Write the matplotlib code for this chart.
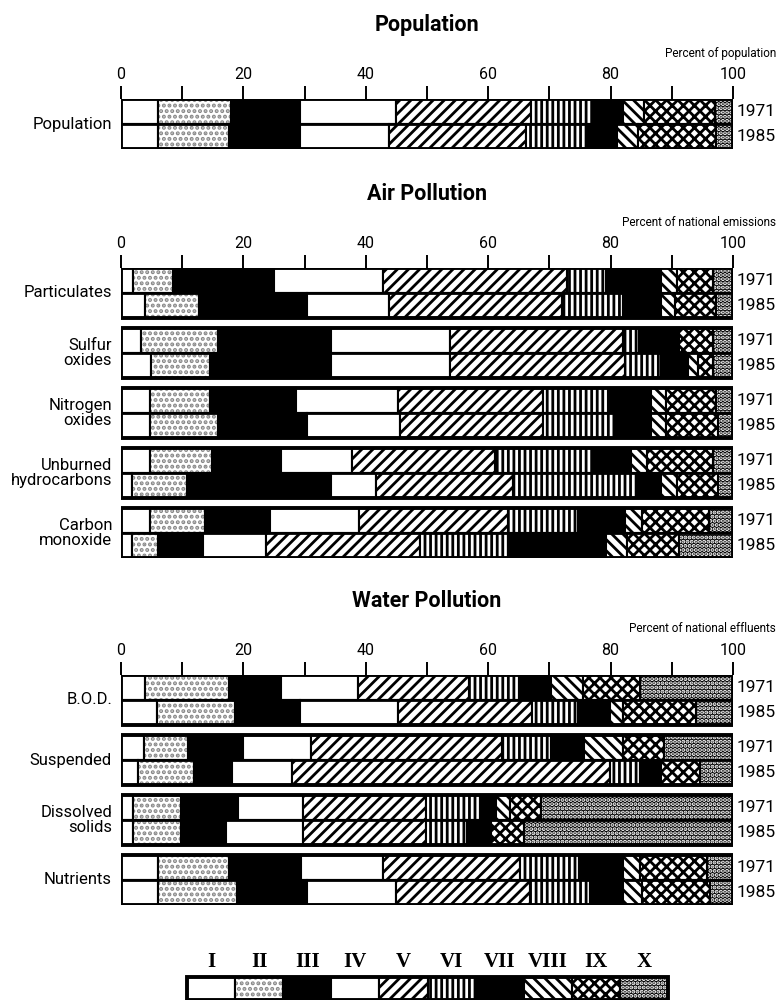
import matplotlib
matplotlib.use("Agg")
import matplotlib.pyplot as plt
from matplotlib.patches import Rectangle
import numpy as np

plt.rcParams['hatch.linewidth'] = 2.0
NARROW = ['Roboto', 'DejaVu Sans']

# ---- data: percent share of each class I..X ----
classes = ['I', 'II', 'III', 'IV', 'V', 'VI', 'VII', 'VIII', 'IX', 'X']

pop_labels = ['Population']
pop_1971 = [[6.0, 12.0, 11.3, 15.7, 22.0, 10.0, 5.0, 3.5, 11.5, 3.0]]
pop_1985 = [[6.0, 11.7, 11.6, 14.5, 22.3, 9.9, 5.0, 3.5, 12.7, 2.8]]

air_labels = ['Particulates', 'Sulfur\noxides', 'Nitrogen\noxides',
              'Unburned\nhydrocarbons', 'Carbon\nmonoxide']
air_1971 = [
    [2.0, 6.5, 16.5, 17.8, 30.0, 6.4, 9.1, 2.5, 6.0, 3.2],
    [3.2, 12.7, 18.4, 19.4, 28.3, 2.6, 6.2, 0.4, 5.6, 3.2],
    [4.8, 9.7, 14.1, 16.6, 23.7, 11.0, 6.7, 2.4, 8.2, 2.8],
    [4.8, 10.0, 11.3, 11.7, 23.3, 15.9, 6.4, 2.5, 10.9, 3.2],
    [4.8, 9.0, 10.6, 14.5, 24.4, 11.3, 7.7, 2.9, 10.9, 3.9],
]
air_1985 = [
    [3.9, 8.8, 17.7, 13.4, 28.3, 9.9, 6.3, 2.2, 6.7, 2.8],
    [4.9, 9.6, 19.8, 19.4, 28.6, 6.0, 4.3, 1.7, 2.5, 3.2],
    [4.8, 11.1, 14.5, 15.2, 23.3, 12.0, 5.7, 2.4, 8.5, 2.5],
    [1.8, 9.0, 23.5, 7.4, 22.3, 20.5, 3.8, 2.5, 6.7, 2.5],
    [1.8, 4.2, 7.4, 10.3, 25.1, 14.5, 15.9, 3.5, 8.5, 8.8],
]

water_labels = ['B.O.D.', 'Suspended', 'Dissolved\nsolids', 'Nutrients']
water_1971 = [
    [3.9, 13.8, 8.4, 12.6, 18.2, 8.1, 5.3, 5.2, 9.3, 15.2],
    [3.7, 7.3, 9.0, 11.0, 31.2, 8.1, 5.3, 6.4, 6.7, 11.3],
    [2.0, 7.8, 9.3, 10.7, 20.0, 8.9, 2.6, 2.2, 5.1, 31.4],
    [6.0, 11.7, 11.7, 13.4, 22.4, 9.7, 7.1, 2.8, 11.0, 4.2],
]
water_1985 = [
    [5.9, 12.8, 10.6, 15.9, 21.9, 7.5, 5.3, 2.1, 11.9, 6.1],
    [2.8, 9.1, 6.3, 9.7, 52.0, 4.9, 3.4, 0.0, 6.4, 5.4],
    [1.9, 7.9, 7.3, 12.7, 20.0, 6.8, 3.9, 0.0, 5.3, 34.2],
    [6.0, 12.9, 11.5, 14.6, 21.9, 9.8, 5.3, 3.2, 11.0, 3.8],
]

years = ['1971', '1985']

# fill colour, hatch, hatch colour for each class
styles = [
    ('white', '', 'black'),
    ('white', '...', '#888888'),
    ('black', '', 'black'),
    ('white', '', 'black'),
    ('white', '///', 'black'),
    ('white', '|||', 'black'),
    ('black', '', 'black'),
    ('white', '\\\\\\', 'black'),
    ('white', 'xxx', 'black'),
    ('black', '....', 'white'),
]

W, H = 778, 1000
fig = plt.figure(figsize=(W / 100, H / 100), dpi=100)

X0, X1 = 121, 733          # pixel position of 0 and 100
ROW = 25                   # pixel height of one bar
PITCH = 60                 # group spacing


def fx(px):
    return px / W


def fy(py):
    return 1 - py / H


def draw_bars(ax, y, shares, height):
    left = np.concatenate([[0], np.cumsum(shares)[:-1]])
    for k, (face, hatch, hcol) in enumerate(styles):
        ax.barh(y, shares[k], left=left[k], height=height, color=face,
                hatch=hatch, edgecolor=hcol, linewidth=0)
        ax.barh(y, shares[k], left=left[k], height=height, fill=False,
                edgecolor='black', linewidth=1.5)


def panel(top, title, unit, labels, d71, d85):
    n = len(labels)
    bottom = top + (n - 1) * PITCH + 2 * ROW
    ax = fig.add_axes([fx(X0), fy(bottom), fx(X1 - X0), (bottom - top) / H])
    ax.set_xlim(0, 100)
    ax.set_ylim(bottom - top, 0)
    for i in range(n):
        g = i * PITCH
        draw_bars(ax, g + ROW / 2, d71[i], ROW)
        draw_bars(ax, g + 1.5 * ROW, d85[i], ROW)
        ax.add_patch(Rectangle((0, g), 100, 2 * ROW, fill=False,
                               edgecolor='black', linewidth=2.8, zorder=5))
        ax.plot([0, 100], [g + ROW, g + ROW], color='black', lw=2.0, zorder=5)
        fig.text(fx(112), fy(top + g + ROW), labels[i], ha='right',
                 va='center', fontsize=12, family=NARROW, linespacing=1.05)
        for j, yr in enumerate(years):
            fig.text(fx(737), fy(top + g + ROW / 2 + j * ROW), yr,
                     ha='left', va='center', fontsize=12.5, family=NARROW)
    for s in ax.spines.values():
        s.set_visible(False)
    ax.set_yticks([])
    ax.xaxis.tick_top()
    ax.set_xticks(range(0, 101, 20))
    ax.set_xticks(range(10, 100, 20), minor=True)
    ax.tick_params(which='both', top=True, bottom=False, direction='out',
                   length=9.5, width=1.4, pad=3)
    for t in ax.get_xticklabels():
        t.set_family(NARROW)
        t.set_fontsize(11.5)
    fig.text(fx(427), fy(top - 74), title, ha='center', va='center',
             fontsize=15.5, fontweight='bold', family=NARROW)
    fig.text(fx(776), fy(top - 46), unit, ha='right', va='center',
             fontsize=8.5, family=NARROW)
    return ax


panel(99, 'Population', 'Percent of population', pop_labels, pop_1971, pop_1985)
panel(268, 'Air Pollution', 'Percent of national emissions', air_labels,
      air_1971, air_1985)
panel(675, 'Water Pollution', 'Percent of national effluents', water_labels,
      water_1971, water_1985)

# legend strip
lx0, lx1, ly0, ly1 = 187, 668, 977, 1000
lax = fig.add_axes([fx(lx0), fy(ly1), fx(lx1 - lx0), (ly1 - ly0) / H])
lax.set_xlim(0, len(classes))
lax.set_ylim(0, 1)
lax.axis('off')
for k, (face, hatch, hcol) in enumerate(styles):
    lax.bar(k + 0.5, 1, width=1, color=face, hatch=hatch, edgecolor=hcol,
            linewidth=0)
    lax.bar(k + 0.5, 1, width=1, fill=False, edgecolor='black', linewidth=1.5)
    fig.text(fx(lx0 + (k + 0.5) * (lx1 - lx0) / len(classes)), fy(962),
             classes[k], ha='center', va='center', fontsize=15,
             fontweight='bold', family=['Liberation Serif', 'DejaVu Serif'])
lax.add_patch(Rectangle((0, 0), len(classes), 1, fill=False,
                        edgecolor='black', linewidth=2.8, clip_on=False))

fig.savefig('out.png', dpi=100)
